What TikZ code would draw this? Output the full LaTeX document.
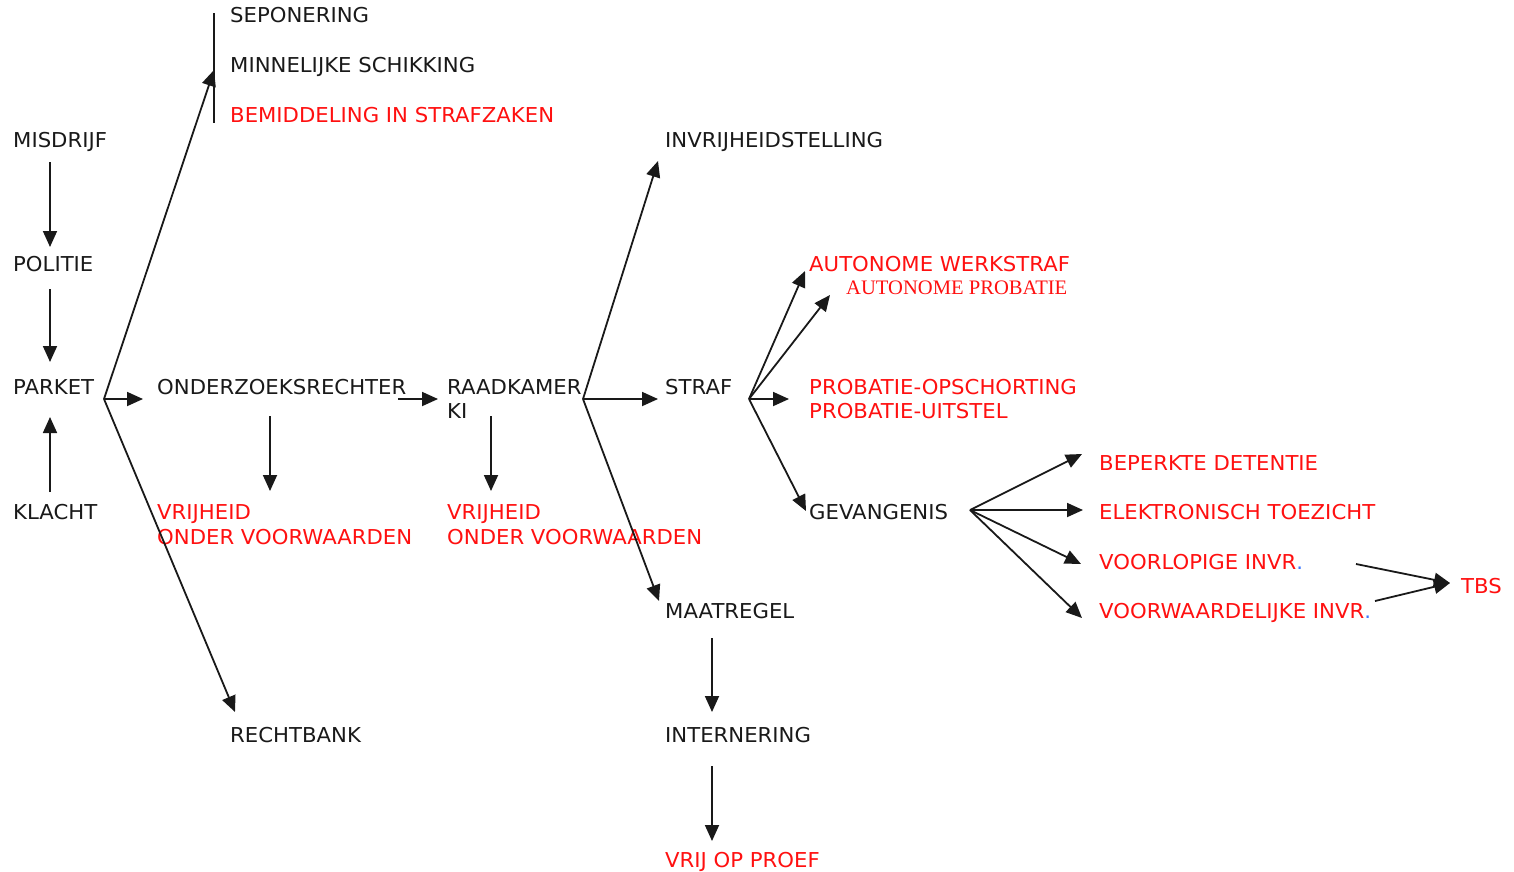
\documentclass[tikz,border=0pt]{standalone}
\usepackage{fontspec}
\setmainfont{DejaVu Sans}[FakeStretch=1.035]
\newfontfamily\serifrm{Liberation Serif}
\usetikzlibrary{arrows.meta}
\definecolor{tred}{RGB}{255,16,16}
\definecolor{tblue}{RGB}{60,120,255}
\definecolor{tblack}{RGB}{25,25,25}
\begin{document}
\begin{tikzpicture}[x=1pt,y=-1pt,
  txt/.style={anchor=base west,inner sep=0pt,font=\fontsize{20.5}{24}\selectfont,text=tblack},
  rtxt/.style={txt,text=tred},
  arr/.style={line width=1.8pt,draw=tblack,-{Triangle[length=16pt,width=14pt]}},
  ln/.style={line width=1.8pt,draw=tblack}]
\useasboundingbox (0,0) rectangle (1514,871);

% ---- text nodes ----
\node[txt]  (sepo)   at (230,22)  {SEPONERING};
\node[txt]  (minn)   at (230,72)  {MINNELIJKE SCHIKKING};
\node[rtxt] (bemi)   at (230,122) {BEMIDDELING IN STRAFZAKEN};
\node[txt]  (misd)   at (13,147)  {MISDRIJF};
\node[txt]  (invr)   at (665,147) {INVRIJHEIDSTELLING};
\node[txt]  (poli)   at (13,271)  {POLITIE};
\node[rtxt] (awerk)  at (809,271) {AUTONOME WERKSTRAF};
\node[rtxt,font=\serifrm\fontsize{20.6}{24}\selectfont] (aprob) at (846,294) {AUTONOME PROBATIE};
\node[txt]  (park)   at (13,394)  {PARKET};
\node[txt]  (onde)   at (157,394) {ONDERZOEKSRECHTER};
\node[txt]  (raad)   at (447,394) {RAADKAMER};
\node[txt]  (ki)     at (447,418) {KI};
\node[txt]  (straf)  at (665,394) {STRAF};
\node[rtxt] (popsch) at (809,394) {PROBATIE-OPSCHORTING};
\node[rtxt] (puit)   at (809,418) {PROBATIE-UITSTEL};
\node[rtxt] (bepe)   at (1099,470) {BEPERKTE DETENTIE};
\node[txt]  (klac)   at (13,519)  {KLACHT};
\node[rtxt] (vrija)  at (157,519) {VRIJHEID};
\node[rtxt] (vrijab) at (157,544) {ONDER VOORWAARDEN};
\node[rtxt] (vrijb)  at (447,519) {VRIJHEID};
\node[rtxt] (vrijbb) at (447,544) {ONDER VOORWAARDEN};
\node[txt]  (geva)   at (809,519) {GEVANGENIS};
\node[rtxt] (elek)   at (1099,519) {ELEKTRONISCH TOEZICHT};
\node[rtxt] (voorl)  at (1099,569) {VOORLOPIGE INVR\textcolor{tblue}{.}};
\node[rtxt] (tbs)    at (1461,593) {TBS};
\node[txt]  (maat)   at (665,618) {MAATREGEL};
\node[rtxt] (voorw)  at (1099,618) {VOORWAARDELIJKE INVR\textcolor{tblue}{.}};
\node[txt]  (rech)   at (230,742) {RECHTBANK};
\node[txt]  (inte)   at (665,742) {INTERNERING};
\node[rtxt] (vrop)   at (665,867) {VRIJ OP PROEF};

% ---- connector points ----
\coordinate (bartop) at (214,13);
\coordinate (barbot) at (214,123);
\coordinate (barhit) at (214,70);
\coordinate (pkfan)  at (104,399);
\coordinate (rkfan)  at (583,399);
\coordinate (stfan)  at (749,399);
\coordinate (gvfan)  at (970,510);

% vertical chain on the left
\draw[arr] (50,162) -- (50,247);
\draw[arr] (50,289) -- (50,362);
\draw[arr] (50,492) -- (50,417);

% PARKET fan
\draw[ln]  (bartop) -- (barbot);
\draw[arr] (pkfan) -- (barhit);
\draw[arr] (pkfan) -- (143,399);
\draw[arr] (pkfan) -- (235,712);

% onderzoeksrechter
\draw[arr] (270,416) -- (270,491);
\draw[arr] (398,399) -- (438,399);
% raadkamer
\draw[arr] (491,416) -- (491,491);
\draw[arr] (rkfan) -- (658,161);
\draw[arr] (rkfan) -- (658,399);
\draw[arr] (rkfan) -- (659,601);

% straf fan
\draw[arr] (stfan) -- (805,271);
\draw[arr] (stfan) -- (830,295);
\draw[arr] (stfan) -- (789,399);
\draw[arr] (stfan) -- (806,511);

% gevangenis fan
\draw[arr] (gvfan) -- (1082,454);
\draw[arr] (gvfan) -- (1083,510);
\draw[arr] (gvfan) -- (1081,564);
\draw[arr] (gvfan) -- (1082,618);

% TBS
\draw[arr] (1356,564) -- (1450,583);
\draw[arr] (1375,601) -- (1450,583);

% maatregel chain
\draw[arr] (712,638) -- (712,712);
\draw[arr] (712,766) -- (712,841);
\end{tikzpicture}
\end{document}
